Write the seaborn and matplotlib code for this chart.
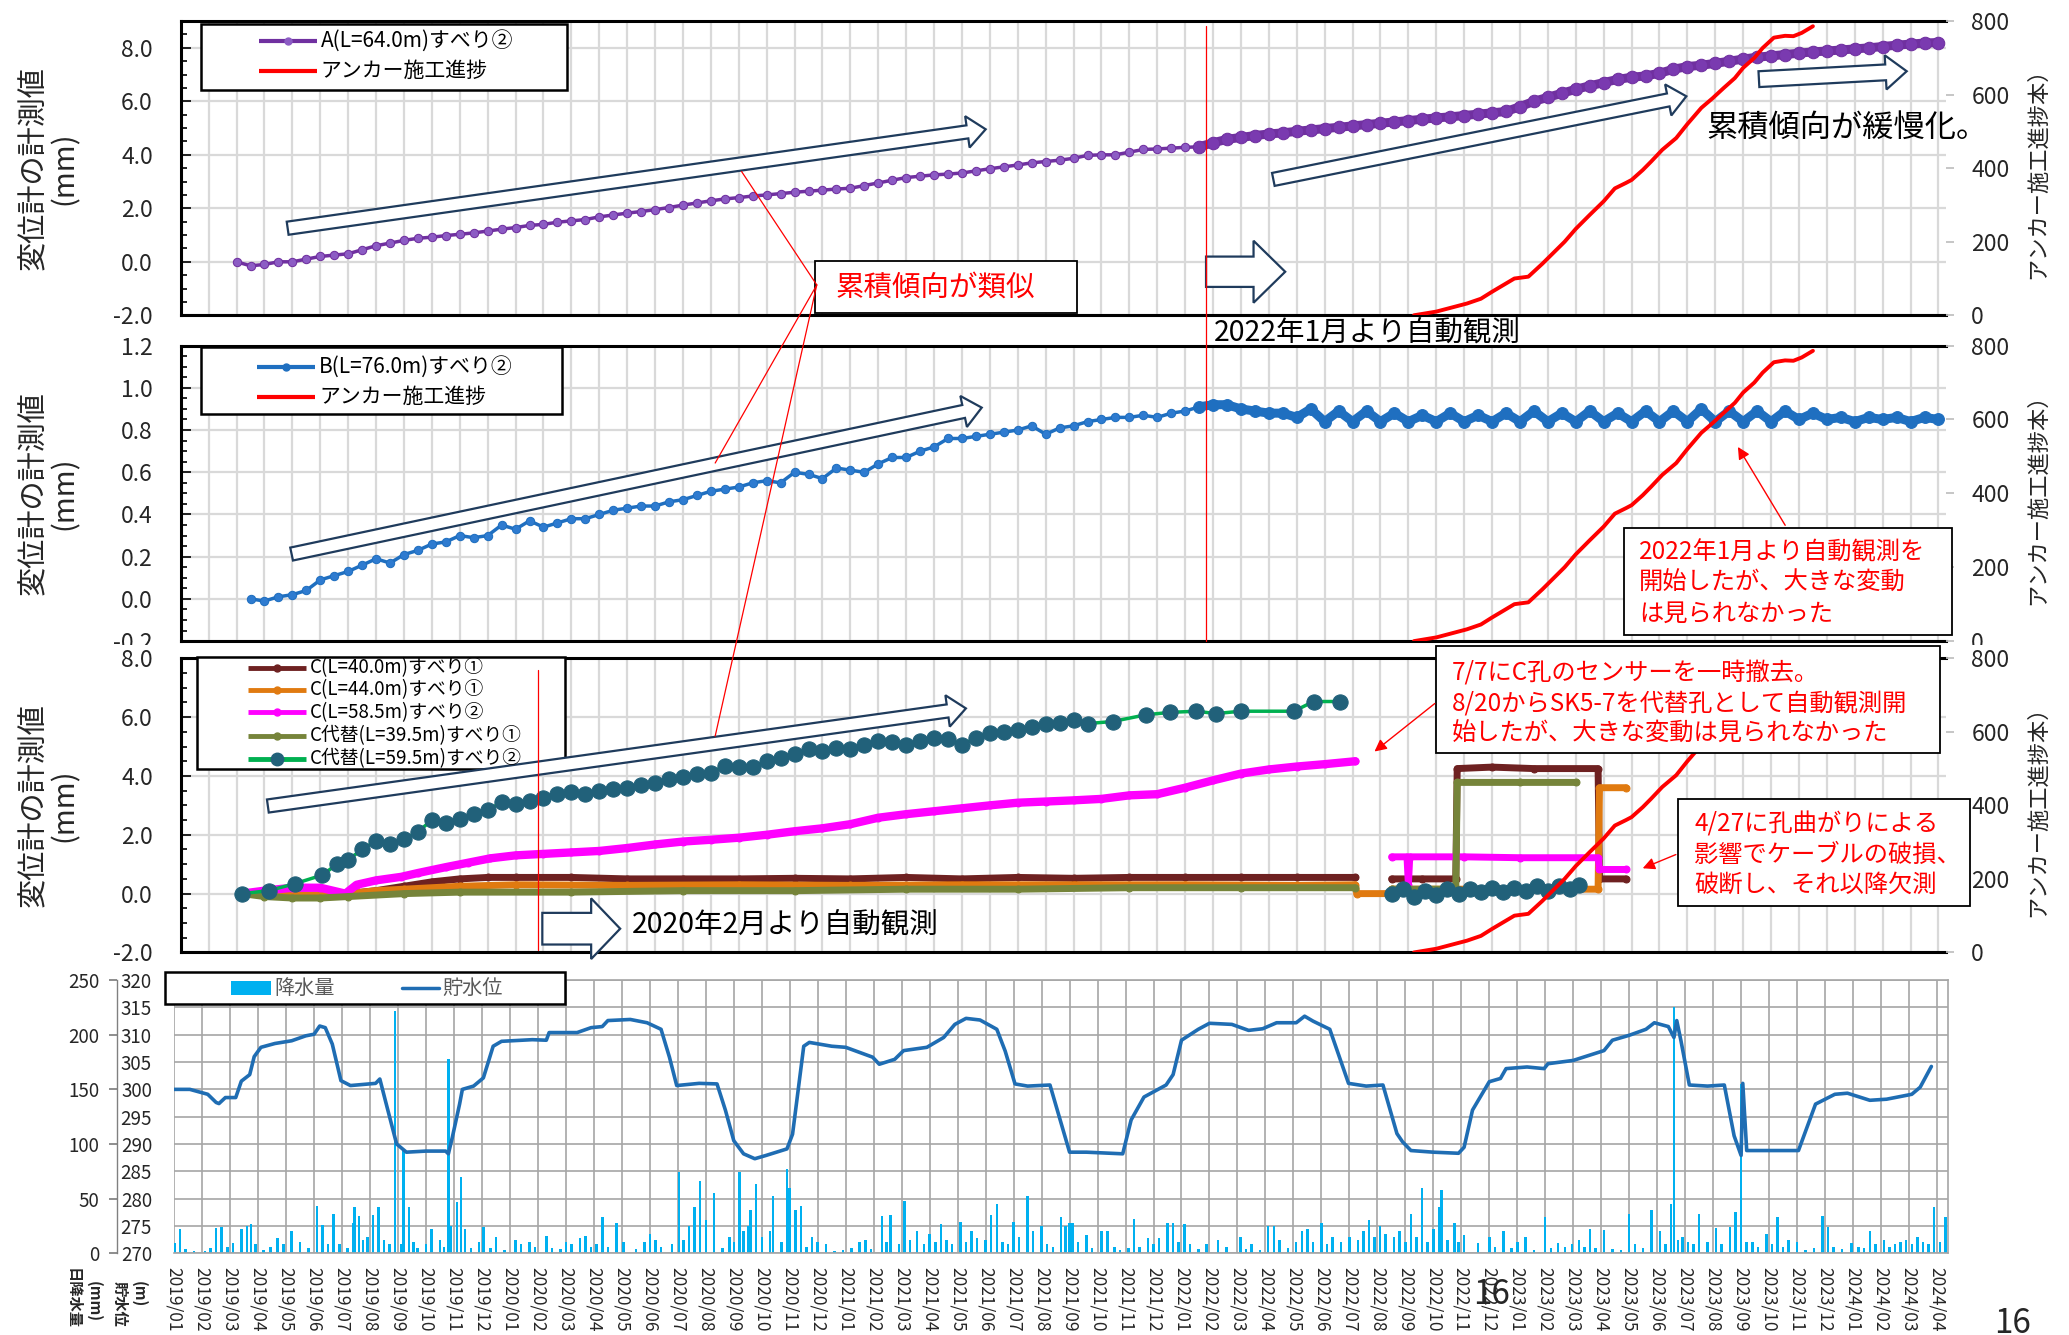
import numpy as np
import pandas as pd
import matplotlib
matplotlib.use("Agg")
import matplotlib.pyplot as plt
from matplotlib.patches import FancyArrow, Rectangle
from matplotlib.ticker import MultipleLocator, FormatStrFormatter
from matplotlib.transforms import Bbox, TransformedBbox
import seaborn as sns

sns.set_theme(style="white")
plt.rcParams['font.family'] = ['Noto Sans CJK JP', 'DejaVu Sans']

# x positions are months counted from 2019/01 (0 = 2019/01, 63 = 2024/04)
month_labels = pd.date_range("2019-01-01", "2024-04-01", freq="MS").strftime("%Y/%m").tolist()

# A(L=64.0m) slide 2 - half-month readings from 2019/03, automatic from 2022/01
a_manual = [0.0, -0.15, -0.1, 0.0, 0.0, 0.1, 0.2, 0.25, 0.3, 0.45,
            0.6, 0.7, 0.8, 0.88, 0.92, 0.98, 1.03, 1.08, 1.15, 1.22,
            1.28, 1.36, 1.40, 1.48, 1.53, 1.58, 1.68, 1.75, 1.82, 1.88,
            1.95, 2.03, 2.12, 2.2, 2.28, 2.35, 2.4, 2.46, 2.5, 2.55,
            2.6, 2.64, 2.68, 2.72, 2.75, 2.85, 2.95, 3.05, 3.15, 3.2,
            3.25, 3.28, 3.32, 3.4, 3.48, 3.55, 3.62, 3.7, 3.75, 3.8,
            3.87, 3.98, 4.0, 4.0, 4.1, 4.2, 4.22, 4.25, 4.28, 4.3]
a_auto = [4.3, 4.45, 4.58, 4.65, 4.72, 4.78, 4.82, 4.88, 4.93, 4.98,
          5.03, 5.08, 5.13, 5.18, 5.23, 5.28, 5.33, 5.38, 5.42, 5.47,
          5.52, 5.57, 5.62, 5.8, 6.0, 6.15, 6.3, 6.45, 6.58, 6.7,
          6.82, 6.9, 6.95, 7.05, 7.2, 7.3, 7.35, 7.42, 7.5, 7.58,
          7.65, 7.7, 7.75, 7.8, 7.85, 7.88, 7.92, 7.96, 8.0, 8.05,
          8.1, 8.14, 8.18, 8.2]

# B(L=76.0m) slide 2
b_manual = [0.00, -0.01, 0.01, 0.02, 0.04, 0.09, 0.11, 0.13, 0.16, 0.19,
            0.17, 0.21, 0.23, 0.26, 0.27, 0.30, 0.29, 0.30, 0.35, 0.33,
            0.37, 0.34, 0.36, 0.38, 0.38, 0.40, 0.42, 0.43, 0.44, 0.44,
            0.46, 0.47, 0.49, 0.51, 0.52, 0.53, 0.55, 0.56, 0.55, 0.60,
            0.59, 0.57, 0.62, 0.61, 0.60, 0.64, 0.67, 0.67, 0.70, 0.72,
            0.76, 0.76, 0.77, 0.78, 0.79, 0.80, 0.82, 0.78, 0.81, 0.82,
            0.84, 0.85, 0.86, 0.86, 0.87, 0.86, 0.88, 0.89, 0.91]
b_auto = [0.91, 0.92, 0.92, 0.90, 0.89, 0.88, 0.88, 0.86, 0.90, 0.84,
          0.89, 0.84, 0.89, 0.84, 0.88, 0.84, 0.87, 0.84, 0.88, 0.84,
          0.87, 0.84, 0.88, 0.84, 0.89, 0.84, 0.88, 0.84, 0.89, 0.84,
          0.88, 0.84, 0.89, 0.84, 0.89, 0.84, 0.90, 0.84, 0.89, 0.84,
          0.89, 0.84, 0.89, 0.85, 0.88, 0.85, 0.86, 0.84, 0.86, 0.85,
          0.86, 0.84, 0.86, 0.85]

# anchor construction progress (count)
anchor_month = [44.2, 45.0, 45.6, 46.1, 46.6, 47.0, 47.4, 47.8, 48.3, 48.8,
                49.2, 49.6, 50.0, 50.5, 51.0, 51.4, 51.8, 52.0, 52.4, 52.7,
                53.1, 53.6, 54.0, 54.5, 54.9, 55.3, 55.7, 56.0, 56.4, 56.7,
                57.1, 57.5, 57.8, 58.1, 58.5]
anchor_count = [0, 10, 22, 32, 45, 64, 82, 100, 105, 140,
                170, 200, 235, 273, 310, 345, 360, 368, 395, 418,
                450, 482, 520, 564, 590, 618, 645, 673, 700, 727,
                755, 760, 759, 768, 786]

# C hole sensors (month, mm)
c40_old = [(2.2, 0.0), (3.0, 0.0), (4.0, -0.05), (5.0, -0.05), (6.0, 0.0), (7.0, 0.1), (8.0, 0.25),
           (9.0, 0.4), (10.0, 0.5), (11.0, 0.55), (12.0, 0.55), (14.0, 0.55), (16.0, 0.5), (18.0, 0.5),
           (20.0, 0.5), (22.0, 0.52), (24.0, 0.5), (26.0, 0.55), (28.0, 0.5), (30.0, 0.55),
           (32.0, 0.52), (34.0, 0.55), (36.0, 0.55), (38.0, 0.55), (40.0, 0.55), (42.1, 0.55)]
c40_new = [(43.4, 0.5), (44.5, 0.5), (45.7, 0.5), (45.75, 4.25), (47.0, 4.3), (48.5, 4.25),
           (50.8, 4.25), (50.85, 0.5), (51.8, 0.5)]
c44 = [(2.2, 0.0), (3.0, -0.05), (4.0, -0.05), (5.0, -0.05), (6.0, 0.0), (7.0, 0.1), (8.0, 0.15),
       (10.0, 0.25), (12.0, 0.3), (16.0, 0.28), (20.0, 0.3), (24.0, 0.28), (28.0, 0.3), (32.0, 0.3),
       (36.0, 0.3), (40.0, 0.28), (42.1, 0.3), (42.15, 0.0), (43.3, 0.0), (43.4, 0.15), (47.0, 0.15),
       (50.8, 0.15), (50.85, 3.6), (51.8, 3.6)]
c585_old = [(2.2, 0.0), (3.0, 0.1), (4.0, 0.2), (5.0, 0.2), (5.9, 0.0), (6.3, 0.3), (7.0, 0.45),
            (7.9, 0.57), (8.5, 0.7), (9.5, 0.9), (10.3, 1.05), (11.1, 1.2), (12.0, 1.3), (13.0, 1.35),
            (14.0, 1.4), (15.0, 1.45), (16.0, 1.55), (17.0, 1.67), (18.0, 1.77), (19.0, 1.83),
            (20.0, 1.9), (21.0, 2.0), (22.0, 2.12), (23.0, 2.22), (24.0, 2.36), (25.0, 2.58),
            (26.0, 2.7), (27.0, 2.8), (28.0, 2.9), (29.0, 3.0), (30.0, 3.09), (31.0, 3.13),
            (32.0, 3.17), (33.0, 3.22), (34.0, 3.34), (35.0, 3.38), (36.0, 3.6), (37.0, 3.85),
            (38.0, 4.08), (39.0, 4.22), (40.0, 4.32), (41.0, 4.4), (42.1, 4.5)]
c585_new = [(43.4, 1.25), (43.95, 1.25), (44.0, 0.3), (44.05, 1.25), (46.0, 1.25), (48.0, 1.22),
            (50.8, 1.22), (50.85, 0.82), (51.8, 0.82)]
c395_old = [(2.2, 0.0), (3.0, -0.1), (4.0, -0.15), (5.0, -0.15), (6.0, -0.1), (8.0, 0.0), (10.0, 0.05),
            (14.0, 0.05), (18.0, 0.1), (22.0, 0.1), (26.0, 0.15), (30.0, 0.15), (34.0, 0.2),
            (38.0, 0.2), (42.1, 0.2)]
c395_new = [(43.4, 0.15), (45.7, 0.15), (45.75, 3.78), (48.0, 3.78), (50.0, 3.78)]
c595_old = [(2.2, 0.0), (3.15, 0.1), (4.1, 0.34), (5.07, 0.63), (5.6, 1.0), (6.0, 1.15), (6.5, 1.5),
            (7.0, 1.8), (7.5, 1.7), (8.0, 1.85), (8.5, 2.1), (9.0, 2.5), (9.5, 2.4), (10.0, 2.55),
            (10.5, 2.7), (11.0, 2.85), (11.5, 3.1), (12.0, 3.05), (12.5, 3.15), (13.0, 3.25),
            (13.5, 3.4), (14.0, 3.45), (14.5, 3.4), (15.0, 3.5), (15.5, 3.55), (16.0, 3.6),
            (16.5, 3.7), (17.0, 3.75), (17.5, 3.9), (18.0, 3.95), (18.5, 4.05), (19.0, 4.1),
            (19.5, 4.35), (20.0, 4.3), (20.5, 4.3), (21.0, 4.5), (21.5, 4.6), (22.0, 4.75),
            (22.5, 4.9), (23.0, 4.85), (23.5, 4.95), (24.0, 4.9), (24.5, 5.05), (25.0, 5.2),
            (25.5, 5.15), (26.0, 5.05), (26.5, 5.2), (27.0, 5.3), (27.5, 5.25), (28.0, 5.05),
            (28.5, 5.3), (29.0, 5.45), (29.5, 5.5), (30.0, 5.55), (30.5, 5.65), (31.0, 5.75),
            (31.5, 5.8), (32.0, 5.9), (32.5, 5.78), (33.4, 5.85), (34.6, 6.08), (35.45, 6.16),
            (36.4, 6.2), (37.1, 6.12), (38.0, 6.2), (39.9, 6.2), (40.6, 6.53), (41.55, 6.53)]
c595_new = [(43.4, 0.0), (43.8, 0.15), (44.2, -0.1), (44.6, 0.1), (45.0, -0.05), (45.4, 0.15),
            (45.8, 0.0), (46.2, 0.15), (46.6, 0.05), (47.0, 0.2), (47.4, 0.05), (47.8, 0.2),
            (48.2, 0.1), (48.6, 0.25), (49.0, 0.1), (49.4, 0.25), (49.8, 0.15), (50.1, 0.3)]

# reservoir level (month, m)
reservoir = [(0.0, 300.0), (0.56, 300.0), (1.2, 299.1), (1.5, 297.6), (1.6, 297.4), (1.83, 298.5),
             (2.2, 298.5), (2.4, 301.5), (2.7, 302.7), (2.86, 306.0), (3.1, 307.7), (3.6, 308.4),
             (4.2, 308.9), (4.7, 309.8), (5.0, 310.1), (5.2, 311.6), (5.4, 311.3), (5.65, 308.3),
             (5.96, 301.6), (6.3, 300.7), (7.2, 301.1), (7.35, 301.9), (7.55, 297.9), (7.95, 290.0),
             (8.3, 288.5), (9.0, 288.7), (9.7, 288.7), (9.8, 288.2), (9.94, 291.2), (10.2, 297.3),
             (10.3, 300.0), (10.7, 300.6), (11.05, 302.1), (11.4, 307.9), (11.7, 308.8), (12.8, 309.1),
             (13.3, 309.0), (13.4, 310.4), (14.4, 310.4), (14.9, 311.3), (15.3, 311.5), (15.5, 312.6),
             (16.3, 312.8), (16.9, 312.2), (17.4, 311.0), (17.7, 305.9), (17.96, 300.7), (18.76, 301.1),
             (19.4, 301.0), (19.7, 296.2), (20.0, 290.6), (20.35, 288.2), (20.75, 287.3), (21.15, 287.9),
             (21.9, 289.1), (22.1, 291.8), (22.5, 307.9), (22.7, 308.6), (23.5, 307.9), (24.0, 307.7),
             (24.96, 305.9), (25.2, 304.6), (25.75, 305.5), (26.07, 307.1), (26.9, 307.7), (27.5, 309.5),
             (27.9, 311.9), (28.3, 313.0), (28.8, 312.7), (29.4, 311.0), (29.7, 307.0), (30.05, 301.0),
             (30.5, 300.6), (31.3, 300.8), (32.0, 288.5), (32.6, 288.5), (33.9, 288.2), (34.2, 294.4),
             (34.66, 298.6), (35.45, 300.8), (35.7, 302.7), (36.0, 309.0), (36.6, 311.0), (37.0, 312.1),
             (37.8, 311.9), (38.4, 310.8), (38.9, 311.1), (39.4, 312.2), (40.1, 312.2), (40.4, 313.4),
             (40.7, 312.5), (41.3, 311.0), (41.97, 301.1), (42.6, 300.6), (43.2, 300.8), (43.7, 291.9),
             (43.9, 290.4), (44.2, 288.8), (45.0, 288.5), (45.9, 288.3), (46.1, 289.4), (46.4, 296.2),
             (47.0, 301.4), (47.4, 302.0), (47.6, 303.8), (48.35, 304.1), (48.96, 303.8), (49.1, 304.7),
             (50.0, 305.3), (51.1, 307.1), (51.4, 309.0), (52.0, 309.9), (52.6, 311.0), (52.9, 312.2),
             (53.4, 311.5), (53.6, 309.5), (53.7, 312.6), (53.85, 308.9), (54.15, 300.8), (54.8, 300.6),
             (55.4, 300.8), (55.75, 291.5), (56.0, 287.9), (56.06, 301.1), (56.2, 288.8), (57.2, 288.8),
             (58.05, 288.8), (58.66, 297.3), (59.35, 299.1), (59.8, 299.3), (60.6, 298.0), (61.2, 298.2),
             (62.1, 299.1), (62.4, 300.4), (62.8, 304.2)]

# daily rainfall (month, mm)
rainfall = [(0.03, 9), (0.2, 22), (0.4, 4), (0.7, 2), (1.1, 2), (1.3, 5), (1.5, 23), (1.7, 24), (1.9, 6),
            (2.1, 9), (2.4, 22), (2.6, 25), (2.75, 27), (2.9, 8), (3.2, 3), (3.45, 6), (3.7, 14), (3.9, 8),
            (4.2, 20), (4.5, 10), (4.8, 5), (5.1, 43), (5.3, 26), (5.5, 8), (5.7, 36), (5.9, 8), (6.2, 5),
            (6.4, 28), (6.45, 42), (6.6, 34), (6.75, 12), (6.9, 15), (7.1, 35), (7.3, 42), (7.5, 12),
            (7.7, 8), (7.9, 222), (8.1, 8), (8.2, 94), (8.4, 42), (8.55, 10), (8.7, 5), (9.0, 8), (9.2, 22),
            (9.5, 12), (9.65, 6), (9.8, 178), (9.9, 25), (10.1, 47), (10.25, 70), (10.4, 22), (10.6, 5),
            (10.9, 10), (11.05, 24), (11.3, 5), (11.5, 15), (11.8, 3),
            (12.2, 12), (12.4, 8), (12.7, 10), (12.9, 6), (13.3, 16), (13.5, 5), (13.8, 4), (14.0, 10),
            (14.2, 8), (14.5, 14), (14.7, 16), (14.9, 6), (15.1, 8), (15.3, 33), (15.5, 6), (15.8, 28),
            (16.05, 10), (16.5, 4), (16.8, 10), (17.0, 18), (17.2, 12), (17.4, 6), (17.8, 8), (18.05, 74),
            (18.2, 12), (18.4, 25), (18.6, 42), (18.8, 66), (19.0, 30), (19.3, 55), (19.6, 5), (19.85, 15),
            (20.0, 10), (20.2, 74), (20.35, 20), (20.5, 25), (20.6, 40), (20.8, 63), (21.0, 15), (21.3, 20),
            (21.4, 52), (21.7, 10), (21.9, 77), (22.0, 60), (22.2, 40), (22.4, 43), (22.6, 6), (22.8, 15),
            (23.0, 10), (23.3, 8), (23.6, 2), (23.9, 3),
            (24.2, 5), (24.5, 10), (24.7, 12), (24.9, 4), (25.3, 34), (25.45, 10), (25.6, 35), (25.9, 8),
            (26.1, 48), (26.3, 12), (26.55, 20), (26.8, 8), (27.0, 18), (27.2, 10), (27.4, 27), (27.6, 12),
            (27.8, 8), (28.1, 29), (28.3, 10), (28.5, 20), (28.7, 14), (29.0, 12), (29.2, 35), (29.4, 45),
            (29.6, 10), (29.8, 8), (30.0, 29), (30.2, 15), (30.5, 52), (30.7, 20), (31.0, 25), (31.2, 8),
            (31.4, 6), (31.7, 33), (31.85, 25), (32.0, 28), (32.1, 28), (32.3, 10), (32.6, 17), (32.8, 5),
            (33.15, 20), (33.35, 20), (33.6, 6), (33.8, 3),
            (34.1, 5), (34.3, 31), (34.5, 6), (34.8, 14), (35.0, 8), (35.2, 14), (35.5, 28), (35.7, 28),
            (35.9, 10), (36.1, 27), (36.3, 8), (36.6, 4), (36.9, 8), (37.3, 12), (37.6, 6), (38.1, 15),
            (38.3, 4), (38.5, 8), (38.8, 3), (39.1, 25), (39.3, 25), (39.5, 12), (39.8, 5), (40.1, 10),
            (40.3, 20), (40.5, 22), (40.7, 10), (41.0, 28), (41.2, 8), (41.4, 15), (41.7, 10), (42.0, 15),
            (42.3, 12), (42.5, 20), (42.7, 30), (42.9, 15), (43.1, 25), (43.3, 18), (43.6, 15), (43.8, 20),
            (44.0, 10), (44.2, 36), (44.4, 15), (44.6, 60), (44.8, 10), (45.0, 22), (45.2, 42), (45.3, 58),
            (45.5, 12), (45.75, 28), (45.9, 10), (46.1, 17),
            (46.6, 9), (47.0, 15), (47.2, 6), (47.5, 20), (47.8, 5), (48.0, 10), (48.3, 15), (48.6, 3),
            (49.0, 33), (49.2, 5), (49.45, 9), (49.7, 6), (49.95, 8), (50.2, 12), (50.4, 6), (50.6, 22),
            (50.8, 5), (51.1, 21), (51.4, 4), (51.7, 3), (52.0, 36), (52.2, 8), (52.5, 5), (52.8, 40),
            (53.1, 20), (53.3, 8), (53.5, 45), (53.6, 225), (53.75, 12), (53.9, 15), (54.1, 10), (54.3, 8),
            (54.5, 36), (54.8, 10), (55.1, 23), (55.3, 8), (55.6, 24), (55.8, 38), (56.0, 155), (56.2, 10),
            (56.4, 10), (56.6, 6), (56.9, 18), (57.1, 8), (57.3, 33), (57.5, 6), (57.7, 12), (58.0, 10),
            (58.3, 3), (58.6, 5), (58.9, 34), (59.1, 24), (59.3, 6), (59.6, 4), (59.95, 9), (60.2, 6),
            (60.4, 5), (60.6, 20), (60.8, 8), (61.1, 12), (61.3, 6), (61.5, 8), (61.7, 10), (61.9, 12),
            (62.1, 8), (62.3, 15), (62.5, 10), (62.7, 8), (62.9, 42), (63.1, 10), (63.3, 33)]

PURPLE, BLUE_B, RED = "#7030a0", "#1f6fc0", "#ff0000"
BROWN, ORANGE, MAGENTA, OLIVE = "#6e2121", "#e07a10", "#ff00ff", "#76843a"
TEAL, GREEN, RAIN, RES = "#21617a", "#00b050", "#00b0f0", "#1f6db3"
NAVY = "#1f3b5c"


def xy(pairs):
    arr = np.array(pairs, dtype=float)
    return arr[:, 0], arr[:, 1]


def half_month(start, vals):
    return start + 0.5 * np.arange(len(vals))


# layout in the reference's 1568 x 1012 preview grid
W, H = 1568, 1012


def place(l, t, r, b):
    return [l / W, 1 - b / H, (r - l) / W, (b - t) / H]


fig = plt.figure(figsize=(20.69, 13.35), dpi=100)
ax1 = fig.add_axes(place(137, 16, 1475, 239))
ax2 = fig.add_axes(place(137, 262, 1475, 486))
ax3 = fig.add_axes(place(137, 499, 1475, 722))
ax4 = fig.add_axes(place(132, 743, 1476, 950))


def style_top(ax, lo, hi, major, minor, fmt):
    ax.set_facecolor("white")
    ax.set_xlim(0, 63.28)
    ax.set_ylim(lo, hi)
    ax.xaxis.set_major_locator(MultipleLocator(1))
    ax.yaxis.set_major_locator(MultipleLocator(major))
    ax.yaxis.set_minor_locator(MultipleLocator(minor))
    ax.yaxis.set_major_formatter(FormatStrFormatter(fmt))
    ax.grid(True, which="major", color="#d9d9d9", lw=1.6)
    ax.set_axisbelow(True)
    ax.tick_params(axis="x", length=0, labelbottom=False)
    ax.tick_params(axis="y", which="both", direction="in", left=True, labelsize=16.5, pad=20,
                   width=1.2, color="black")
    ax.tick_params(axis="y", which="major", length=7)
    ax.tick_params(axis="y", which="minor", length=4)
    for side in ["left", "top", "bottom"]:
        ax.spines[side].set_color("black")
        ax.spines[side].set_linewidth(2.2)
    ax.spines["right"].set_visible(False)
    tw = ax.twinx()
    tw.set_ylim(0, 800)
    tw.yaxis.set_major_locator(MultipleLocator(200))
    tw.tick_params(axis="y", labelsize=16.5, length=6, color="#bfbfbf", pad=12, right=True)
    for s in tw.spines.values():
        s.set_visible(False)
    return tw


tw1 = style_top(ax1, -2, 9, 2, 0.5, "%.1f")
tw2 = style_top(ax2, -0.2, 1.2, 0.2, 0.05, "%.1f")
tw3 = style_top(ax3, -2, 8, 2, 0.5, "%.1f")

# panel 1 : A
sns.lineplot(x=half_month(2.0, a_manual), y=a_manual, ax=ax1, color=PURPLE, lw=2.5, marker="o",
             markersize=6, markerfacecolor="#8c5cc4", markeredgecolor=PURPLE, estimator=None, sort=False)
sns.lineplot(x=half_month(36.5, a_auto), y=a_auto, ax=ax1, color=PURPLE, lw=6.5, marker="o",
             markersize=9, markerfacecolor="#7a3ab0", markeredgecolor=PURPLE, estimator=None, sort=False)

# panel 2 : B
sns.lineplot(x=half_month(2.5, b_manual), y=b_manual, ax=ax2, color=BLUE_B, lw=2.5, marker="o",
             markersize=6, markerfacecolor="#2e7bd0", markeredgecolor=BLUE_B, estimator=None, sort=False)
sns.lineplot(x=half_month(36.5, b_auto), y=b_auto, ax=ax2, color=BLUE_B, lw=6.5, marker="o",
             markersize=8.5, markerfacecolor=BLUE_B, markeredgecolor=BLUE_B, estimator=None, sort=False)

# anchor progress in every displacement panel
for tw in (tw1, tw2, tw3):
    sns.lineplot(x=anchor_month, y=anchor_count, ax=tw, color=RED, lw=2.8, estimator=None, sort=False)
    tw.set_ylim(0, 800)
    tw.set_ylabel("アンカー施工進捗本）", fontsize=16)
    tw.yaxis.set_label_coords(1.0454, 0.5)

# panel 3 : C sensors
c_series = [(c40_old, BROWN, BROWN, 5, 5), (c40_new, BROWN, BROWN, 5, 5),
            (c44, ORANGE, ORANGE, 5, 5),
            (c585_old, MAGENTA, MAGENTA, 6, 5), (c585_new, MAGENTA, MAGENTA, 5, 5),
            (c395_old, OLIVE, OLIVE, 5, 5), (c395_new, OLIVE, OLIVE, 5, 5),
            (c595_old, GREEN, TEAL, 2.5, 11), (c595_new, GREEN, TEAL, 2.5, 11)]
for pairs, lc, mc, lw, ms in c_series:
    xs, ys = xy(pairs)
    sns.lineplot(x=xs, y=ys, ax=ax3, color=lc, lw=lw, marker="o", markersize=ms,
                 markerfacecolor=mc, markeredgecolor=mc, estimator=None, sort=False)

for ax, lo, hi in ((ax1, -2, 9), (ax2, -0.2, 1.2), (ax3, -2, 8)):
    ax.set_xlim(0, 63.28)
    ax.set_ylim(lo, hi)
    ax.set_xlabel("")
    ax.set_ylabel("変位計の計測値\n(mm)", fontsize=21, linespacing=1.05)
    ax.yaxis.set_label_coords(-0.057, 0.5)

# panel 4 : rainfall + reservoir
ax4.set_facecolor("white")
rain_m, rain_mm = xy(rainfall)
ax4.bar(rain_m, rain_mm, width=0.09, color=RAIN, lw=0, zorder=2)
ax4.set_xlim(0, 63.38)
ax4.set_ylim(0, 250)
ax4.yaxis.set_major_locator(MultipleLocator(50))
ax4.yaxis.set_minor_locator(MultipleLocator(25))
ax4.set_xticks(range(len(month_labels)))
ax4.set_xticklabels(month_labels, rotation=270, fontsize=12.5)
ax4.grid(True, which="both", axis="y", color="#a6a6a6", lw=1.2)
ax4.grid(True, which="major", axis="x", color="#a6a6a6", lw=1.2)
ax4.set_axisbelow(True)
ax4.tick_params(axis="x", length=0, pad=10)
ax4.tick_params(axis="y", which="major", left=True, length=6, color="#808080", labelsize=13.5, pad=7)
ax4.tick_params(axis="y", which="minor", length=0)
for side in ["top", "right", "bottom"]:
    ax4.spines[side].set_color("#a6a6a6")
    ax4.spines[side].set_linewidth(1.2)
ax4.spines["left"].set_position(("outward", 41))
ax4.spines["left"].set_color("#808080")
ax4.spines["left"].set_linewidth(1.0)

ax4b = ax4.twinx()
res_m, res_lv = xy(reservoir)
sns.lineplot(x=res_m, y=res_lv, ax=ax4b, color=RES, lw=2.6, estimator=None, sort=False)
ax4b.set_ylim(270, 320)
ax4b.set_xlim(0, 63.38)
ax4b.set_ylabel("")
ax4b.yaxis.set_major_locator(MultipleLocator(5))
ax4b.yaxis.tick_left()
ax4b.tick_params(axis="y", length=0, labelsize=13.5, pad=16)
for s in ax4b.spines.values():
    s.set_visible(False)

# the lowest labels of panel 2 are half hidden under panel 3, as in the slide
fig.canvas.draw()
clip = TransformedBbox(Bbox([[0, 1 - 489 / H], [1, 1]]), fig.transFigure)
for axis in (ax2.yaxis, tw2.yaxis):
    for tick in axis.get_major_ticks():
        for lab in (tick.label1, tick.label2):
            lab.set_clip_box(clip)
            lab.set_clip_on(True)

# ---- annotations in the preview pixel grid ----
ov = fig.add_axes([0, 0, 1, 1], zorder=10)
ov.set_xlim(0, W)
ov.set_ylim(H, 0)
ov.axis("off")
ov.set_facecolor("none")


def hollow(x0, y0, x1, y1, w, hw, hl):
    ov.add_patch(FancyArrow(x0, y0, x1 - x0, y1 - y0, width=w, head_width=hw, head_length=hl,
                            length_includes_head=True, fc="white", ec=NAVY, lw=1.6))


def legend_frame(x0, y0, x1, y1):
    ov.add_patch(Rectangle((x0, y0), x1 - x0, y1 - y0, fc="white", ec="black", lw=1.8))


def legend_line(y, lx0, lx1, color, lw, text, size, ms=0, mcolor=None):
    ov.plot([lx0, lx1], [y, y], color=color, lw=lw, solid_capstyle="butt")
    if ms:
        ov.plot([(lx0 + lx1) / 2], [y], marker="o", ms=ms, color=mcolor or color, ls="none")
    ov.text(lx1 + 3, y, text, fontsize=size, va="center", ha="left", color="black")


def note(x0, y0, x1, y1, lines, ys, tx, size=17.5):
    ov.add_patch(Rectangle((x0, y0), x1 - x0, y1 - y0, fc="white", ec="black", lw=1.3))
    for yy, s in zip(ys, lines):
        ov.text(tx, yy, s, color="red", fontsize=size, va="center", ha="left")


# legends
legend_frame(152, 18, 430, 68)
legend_line(31, 196, 240, PURPLE, 3, "A(L=64.0m)すべり②", 15, ms=5, mcolor="#8c5cc4")
legend_line(54, 196, 240, RED, 3, "アンカー施工進捗", 15)

legend_frame(152, 263, 426, 314)
legend_line(278, 195, 239, BLUE_B, 3, "B(L=76.0m)すべり②", 15, ms=5)
legend_line(301, 195, 239, RED, 3, "アンカー施工進捗", 15)

legend_frame(149, 498, 428, 583)
legend_line(506, 188, 232, BROWN, 3.5, "C(L=40.0m)すべり①", 13.5, ms=5)
legend_line(523, 188, 232, ORANGE, 3.5, "C(L=44.0m)すべり①", 13.5, ms=5)
legend_line(540, 188, 232, MAGENTA, 3.5, "C(L=58.5m)すべり②", 13.5, ms=5)
legend_line(558, 188, 232, OLIVE, 3.5, "C代替(L=39.5m)すべり①", 13.5, ms=5)
legend_line(575, 188, 232, GREEN, 3.5, "C代替(L=59.5m)すべり②", 13.5, ms=9, mcolor=TEAL)

legend_frame(125, 737, 428, 761)
ov.add_patch(Rectangle((175, 744), 30, 10, fc=RAIN, ec="none"))
ov.text(208, 749, "降水量", fontsize=14.5, va="center", color="#595959")
ov.plot([305, 333], [749, 749], color=RES, lw=2.5)
ov.text(335, 749, "貯水位", fontsize=14.5, va="center", color="#595959")

# hollow arrows
hollow(218, 173, 747, 98, 10, 24, 14)
hollow(965, 136, 1278, 73, 10, 24, 14)
hollow(1333, 60, 1445, 54, 12, 26, 16)
hollow(914, 206, 974, 206, 23, 47, 24)
hollow(221, 420, 744, 309, 10, 24, 14)
hollow(203, 611, 732, 537, 10, 24, 14)
hollow(411, 704, 470, 704, 24, 46, 22)

# red guide lines
ov.plot([914, 914], [20, 486], color=RED, lw=0.9)
ov.plot([408, 408], [508, 720], color=RED, lw=0.9)
ov.plot([562, 619], [130, 216], color=RED, lw=0.9)
ov.plot([619, 542], [216, 351], color=RED, lw=0.9)
ov.plot([619, 542], [216, 558], color=RED, lw=0.9)

# text
note(618, 198, 816, 237, ["累積傾向が類似"], [218], 633, size=20.5)
ov.text(1293, 97, "累積傾向が緩慢化。", fontsize=22.5, va="center", ha="left", color="black")
ov.text(920, 253, "2022年1月より自動観測", fontsize=20.5, va="center", ha="left", color="black")
ov.text(479, 702, "2020年2月より自動観測", fontsize=20.5, va="center", ha="left", color="black")

note(1231, 400, 1479, 481, ["2022年1月より自動観測を", "開始したが、大きな変動", "は見られなかった"],
     [419, 442, 465], 1242)
note(1088, 490, 1470, 571, ["7/7にC孔のセンサーを一時撤去。", "8/20からSK5-7を代替孔として自動観測開",
                            "始したが、大きな変動は見られなかった"], [510, 533, 556], 1100)
note(1272, 606, 1493, 687, ["4/27に孔曲がりによる", "影響でケーブルの破損、", "破断し、それ以降欠測"],
     [625, 648, 671], 1284)

arrow_kw = dict(arrowstyle="-|>", color=RED, lw=1.0, mutation_scale=18)
ov.annotate("", xy=(1316, 337), xytext=(1354, 400), arrowprops=arrow_kw)
ov.annotate("", xy=(1040, 571), xytext=(1089, 532), arrowprops=arrow_kw)
ov.annotate("", xy=(1243, 659), xytext=(1272, 647), arrowprops=arrow_kw)

# bottom-left axis captions
for x, y, s in ((55, 961, "日降水量"), (71, 971, "(mm)"), (91, 971, "貯水位"), (105, 971, "(m)")):
    ov.text(x, y, s, rotation=270, fontsize=11, fontweight="bold", ha="center", va="top")

ov.text(1130, 981, "16", fontsize=24, ha="center", va="center")
ov.text(1525, 1003, "16", fontsize=24, ha="center", va="center")

fig.savefig("out.png", dpi=100)
